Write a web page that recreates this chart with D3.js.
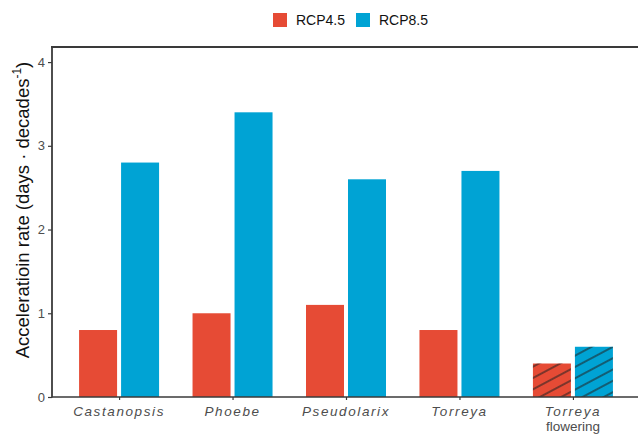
<!DOCTYPE html>
<html>
<head>
<meta charset="utf-8">
<script src="https://cdn.jsdelivr.net/npm/d3@7"></script>
<style>
  html, body { margin: 0; padding: 0; background: #fff; }
  svg { display: block; font-family: "Liberation Sans", Arial, sans-serif; }
</style>
</head>
<body>
<svg id="chart" width="638" height="435"></svg>
<script>
// Acceleration rate per species under two emission scenarios
const categories = ["Castanopsis", "Phoebe", "Pseudolarix", "Torreya", "Torreya flowering"];
const series = ["RCP4.5", "RCP8.5"];
const rcp45 = [0.8, 1.0, 1.1, 0.8, 0.4];
const rcp85 = [2.8, 3.4, 2.6, 2.7, 0.6];
const yTicks = [0, 1, 2, 3, 4];
const hatched = ["Torreya flowering"];

const colors = { "RCP4.5": "#E64B35", "RCP8.5": "#00A3D4" };
const axisColor = "#4D4D4D";
const lineColor = "#3a3a3a";

const svg = d3.select("#chart");
const panelL = 52, panelR = 638, panelT = 47, panelB = 397;

const x = d3.scalePoint().domain(categories).range([51, 641]).padding(0.6);
const xSub = d3.scaleBand().domain(series).range([-40, 40]).paddingInner(4 / 42);
const y = d3.scaleLinear().domain([0, 4.18]).range([panelB, panelT]);

// diagonal hatch used for the flowering bars
const defs = svg.append("defs");
defs.append("pattern")
  .attr("id", "hatch")
  .attr("patternUnits", "userSpaceOnUse")
  .attr("width", 10).attr("height", 10)
  .attr("patternTransform", "rotate(-28)")
  .append("line")
  .attr("x1", 0).attr("y1", 5).attr("x2", 10).attr("y2", 5)
  .attr("stroke", "#222").attr("stroke-width", 1.1);

const rows = categories.map((c, i) => ({ cat: c, values: [
  { key: "RCP4.5", v: rcp45[i] }, { key: "RCP8.5", v: rcp85[i] }] }));

const groups = svg.append("g").selectAll("g").data(rows).join("g")
  .attr("transform", d => `translate(${x(d.cat)},0)`);

groups.selectAll("rect.bar").data(d => d.values.map(v => ({ ...v, cat: d.cat })))
  .join("rect").attr("class", "bar")
  .attr("x", d => xSub(d.key))
  .attr("width", xSub.bandwidth())
  .attr("y", d => y(d.v))
  .attr("height", d => y(0) - y(d.v))
  .attr("fill", d => colors[d.key]);

groups.selectAll("rect.hatch")
  .data(d => hatched.includes(d.cat) ? d.values : [])
  .join("rect").attr("class", "hatch")
  .attr("x", d => xSub(d.key))
  .attr("width", xSub.bandwidth())
  .attr("y", d => y(d.v))
  .attr("height", d => y(0) - y(d.v))
  .attr("fill", "url(#hatch)");

// y axis
const yAxis = svg.append("g").attr("transform", `translate(${panelL},0)`)
  .call(d3.axisLeft(y).tickValues(yTicks).tickSize(4).tickPadding(3).tickFormat(d3.format("d")));
yAxis.select(".domain").remove();
yAxis.selectAll(".tick line").attr("stroke", lineColor).attr("stroke-width", 1.2);
yAxis.selectAll(".tick text").attr("fill", axisColor).attr("font-size", 13)
  .attr("font-family", "Liberation Sans, Arial, sans-serif");

// x axis
const xAxis = svg.append("g").attr("transform", `translate(0,${panelB})`)
  .call(d3.axisBottom(x).tickSize(3).tickFormat(""));
xAxis.select(".domain").remove();
xAxis.selectAll(".tick line").attr("stroke", lineColor).attr("stroke-width", 1.2);

svg.append("g").selectAll("text").data(categories).join("text")
  .attr("x", d => x(d)).attr("y", 416)
  .attr("text-anchor", "middle")
  .attr("fill", axisColor).attr("font-size", 13.5)
  .attr("font-style", "italic").attr("letter-spacing", 1.6)
  .text(d => d.split(" ")[0]);
svg.append("g").selectAll("text").data(categories.filter(c => c.includes(" "))).join("text")
  .attr("x", d => x(d)).attr("y", 431)
  .attr("text-anchor", "middle")
  .attr("fill", axisColor).attr("font-size", 13.5)
  .text(d => d.split(" ").slice(1).join(" "));

// panel lines: left, top, bottom
svg.append("line").attr("x1", panelL).attr("x2", panelL).attr("y1", panelT - 1).attr("y2", panelB + 0.6)
  .attr("stroke", lineColor).attr("stroke-width", 1.8);
svg.append("line").attr("x1", panelL - 0.9).attr("x2", panelR).attr("y1", panelT).attr("y2", panelT)
  .attr("stroke", lineColor).attr("stroke-width", 2);
svg.append("line").attr("x1", panelL).attr("x2", panelR).attr("y1", panelB).attr("y2", panelB)
  .attr("stroke", lineColor).attr("stroke-width", 1.3);

// y title
const yt = svg.append("text")
  .attr("transform", "translate(29,210) rotate(-90)")
  .attr("text-anchor", "middle").attr("fill", "#111").attr("font-size", 18.5);
yt.append("tspan").text("Acceleratioin rate (days · decades");
yt.append("tspan").attr("font-size", 12).attr("dy", -8).text("-1");
yt.append("tspan").attr("dy", 8).text(")");

// legend
const legendX = [273, 356];
const lg = svg.append("g").selectAll("g").data(series).join("g")
  .attr("transform", (d, i) => `translate(${legendX[i]},13)`);
lg.append("rect").attr("width", 14).attr("height", 14).attr("fill", d => colors[d]);
lg.append("text").attr("x", 23).attr("y", 12).attr("font-size", 14).attr("fill", "#111").text(d => d);
</script>
</body>
</html>
